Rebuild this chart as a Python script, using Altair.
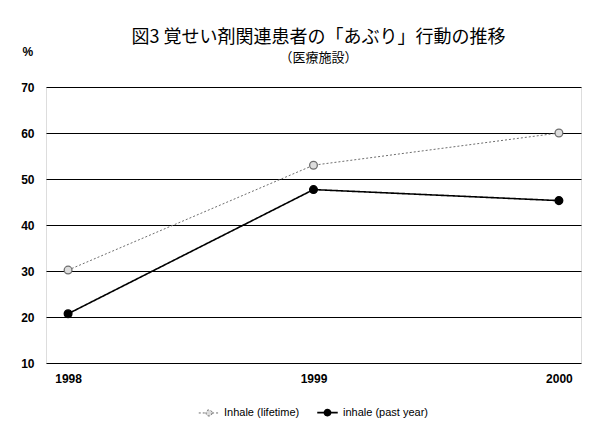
import altair as alt
import pandas as pd

years = ["1998", "1999", "2000"]
lifetime = [30.2, 53.0, 60.0]
past_year = [20.7, 47.7, 45.3]
series_names = ["Inhale (lifetime)", "inhale (past year)"]
y_ticks = [10, 20, 30, 40, 50, 60, 70]

rows = []
for name, vals in zip(series_names, [lifetime, past_year]):
    for yr, v in zip(years, vals):
        rows.append({"year": yr, "value": v, "series": name})
df = pd.DataFrame(rows)

FONT = "Liberation Sans"
CJK = "Noto Sans CJK JP"

sym_path = ("M-1,0H-0.3 M0.3,0A0.3,0.3 0 1,1 -0.3,0A0.3,0.3 0 1,1 0.3,0Z "
            "M0.3,0H1")

legend = alt.Legend(
    title=None, orient="none", direction="horizontal",
    legendX=152, legendY=314,
    symbolType=sym_path, symbolSize=420, symbolStrokeWidth=1.3,
    labelFont=FONT, labelFontSize=11, labelColor="#000",
    columnPadding=14, labelOffset=4,
)

x = alt.X("year:O", sort=years,
          scale=alt.Scale(type="point", padding=0.09),
          axis=alt.Axis(title=None, labelAngle=0, ticks=False, domain=False,
                        labelPadding=10, labelFont=FONT, labelFontSize=12,
                        labelFontWeight="bold", labelColor="#000"))
y = alt.Y("value:Q",
          scale=alt.Scale(domain=[10, 70], nice=False, zero=False),
          axis=alt.Axis(values=y_ticks, grid=True, gridColor="#000", gridWidth=1,
                        gridOpacity=1, ticks=False, domain=False, labelPadding=12,
                        labelFont=FONT, labelFontSize=12, labelFontWeight="bold",
                        labelColor="#000", title="%", titleAngle=0, titleX=-24,
                        titleY=-29, titleAlign="left", titleFont=FONT,
                        titleFontSize=12, titleFontWeight="bold", titleColor="#000"))

color = alt.Color("series:N", scale=alt.Scale(domain=series_names, range=["#6e6e6e", "#000000"]), legend=legend)
dash = alt.StrokeDash("series:N", scale=alt.Scale(domain=series_names, range=[[2, 2], [1, 0]]), legend=legend)
fill = alt.Fill("series:N", scale=alt.Scale(domain=series_names, range=["#dddddd", "#000000"]), legend=legend)
sw = alt.StrokeWidth("series:N", scale=alt.Scale(domain=series_names, range=[1, 1.6]), legend=None)

lines = alt.Chart(df).mark_line().encode(x=x, y=y, color=color, strokeDash=dash, strokeWidth=sw)
points = alt.Chart(df).mark_point(filled=False, strokeWidth=1.3, opacity=1, size=60).encode(
    x=x, y=y, color=color, fill=fill)

chart = alt.layer(lines, points).properties(
    width=535, height=276,
    title=alt.TitleParams(
        text="図3 覚せい剤関連患者の「あぶり」行動の推移",
        subtitle="（医療施設）",
        font=CJK, fontSize=18, fontWeight="normal", color="#000",
        subtitleFont=CJK, subtitleFontSize=13, subtitleColor="#000",
        anchor="middle", dx=5, dy=42, offset=22, subtitlePadding=5,
    ),
    autosize=alt.AutoSizeParams(type="none"),
    padding={"left": 38, "top": 79, "right": 25, "bottom": 58},
).configure_view(stroke="#000", strokeWidth=1.5).configure(background="#ffffff")

chart.save("out.html", embed_options={"renderer": "svg", "actions": False})
